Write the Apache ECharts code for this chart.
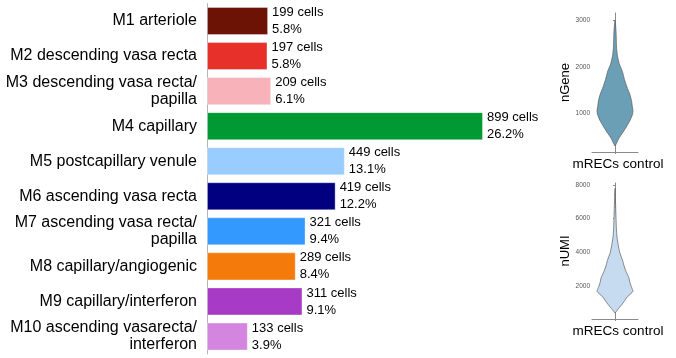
<!DOCTYPE html>
<html>
<head>
<meta charset="utf-8">
<script src="https://cdn.jsdelivr.net/npm/echarts@6/dist/echarts.min.js"></script>
<style>
  html, body { margin: 0; padding: 0; background: #fff; }
  #chart { width: 676px; height: 358px; }
</style>
</head>
<body>
<div id="chart"></div>
<script>
// Endothelial clusters: cell counts and share of all cells
const categories = [
  'M1 arteriole',
  'M2 descending vasa recta',
  'M3 descending vasa recta/\npapilla',
  'M4 capillary',
  'M5 postcapillary venule',
  'M6 ascending vasa recta',
  'M7 ascending vasa recta/\npapilla',
  'M8 capillary/angiogenic',
  'M9 capillary/interferon',
  'M10 ascending vasarecta/\ninterferon'
];
const cellCounts = [199, 197, 209, 899, 449, 419, 321, 289, 311, 133];
const cellPercents = ['5.8', '5.8', '6.1', '26.2', '13.1', '12.2', '9.4', '8.4', '9.1', '3.9'];
const barColors = ['#6c1305', '#e8302a', '#f8b3ba', '#009933', '#99ccff',
                   '#000080', '#3399ff', '#f47a0b', '#a83bc5', '#d385e0'];

// Violin outlines: expression level vs relative density (half width)
const nGeneLevels  = [290, 360, 460, 560, 700, 850, 980, 1060, 1150, 1270, 1400, 1560, 1720, 1900, 2060, 2250, 2430, 2780, 3000];
const nGeneDensity = [0, 0.1, 0.22, 0.4, 0.63, 0.85, 0.98, 1.0, 0.96, 0.92, 0.83, 0.67, 0.53, 0.41, 0.24, 0.13, 0.085, 0.056, 0];
const nUMILevels   = [400, 600, 870, 1100, 1350, 1680, 1900, 2200, 2500, 2850, 3200, 3500, 4000, 4500, 5000, 5600, 6600, 7800];
const nUMIDensity  = [0, 0.15, 0.36, 0.52, 0.68, 1.0, 0.93, 0.83, 0.77, 0.62, 0.5, 0.43, 0.26, 0.17, 0.1, 0.07, 0.04, 0];
const nGeneTicks = [1000, 2000, 3000];
const nUMITicks  = [2000, 4000, 6000, 8000];
const sampleName = 'mRECs control';

const FONT = '"Liberation Sans", Arial, Helvetica, sans-serif';

function violinRenderer(levels, density, fill) {
  return function (params, api) {
    if (params.dataIndex !== 0) return null;
    const right = levels.map((v, i) => api.coord([density[i], v]));
    const left = [];
    for (let i = levels.length - 2; i >= 1; i--) {
      left.push(api.coord([-density[i], levels[i]]));
    }
    return {
      type: 'polygon',
      shape: { points: right.concat(left), smooth: 0.15 },
      style: { fill: fill, stroke: '#5c5c5c', lineWidth: 0.7 }
    };
  };
}

function violinAxes(grid, name, ticks, min, max) {
  const x = {
    type: 'value', gridIndex: grid, min: -1.28, max: 1.28,
    name: sampleName, nameLocation: 'middle', nameGap: 5,
    nameTextStyle: { fontSize: 13.5, color: '#000', fontFamily: FONT, padding: [0, 0, 0, 6] },
    axisLine: { show: true, lineStyle: { color: '#8a8a8a', width: 1 } },
    axisTick: { show: true, customValues: [0], length: 2, lineStyle: { color: '#8a8a8a' } },
    axisLabel: { show: false }, splitLine: { show: false }
  };
  const y = {
    type: 'value', gridIndex: grid, min: min, max: max,
    name: name, nameLocation: 'middle', nameGap: 19,
    nameTextStyle: { fontSize: 13, color: '#000', fontFamily: FONT },
    axisLine: { show: true, lineStyle: { color: '#8a8a8a', width: 1 } },
    axisTick: { show: true, customValues: ticks, length: 2, lineStyle: { color: '#8a8a8a' } },
    axisLabel: {
      customValues: ticks, fontSize: 6.5, color: '#555', margin: 2, fontFamily: FONT,
      formatter: v => String(v)
    },
    splitLine: { show: false }
  };
  return [x, y];
}

const v1 = violinAxes(1, 'nGene', nGeneTicks, 160, 3160);
const v2 = violinAxes(2, 'nUMI', nUMITicks, 40, 8120);

const chart = echarts.init(document.getElementById('chart'), null, { renderer: 'canvas' });
chart.setOption({
  animation: false,
  backgroundColor: '#fff',
  grid: [
    { left: 207, top: 3.5, width: 307, height: 350.5 },
    { left: 592, top: 13, width: 46, height: 139 },
    { left: 592, top: 183, width: 46, height: 136 }
  ],
  xAxis: [
    { type: 'value', gridIndex: 0, min: 0, max: 1000, show: false },
    v1[0], v2[0]
  ],
  yAxis: [
    {
      type: 'category', gridIndex: 0, data: categories, inverse: true,
      axisLine: { show: true, lineStyle: { color: '#b4b4b4', width: 1 } },
      axisTick: { show: false },
      axisLabel: { fontSize: 16, lineHeight: 17, color: '#000', margin: 10, fontFamily: FONT, align: 'right' }
    },
    v1[1], v2[1]
  ],
  series: [
    {
      type: 'bar', xAxisIndex: 0, yAxisIndex: 0,
      barCategoryGap: '20%',
      data: cellCounts.map((c, i) => ({
        value: c,
        itemStyle: { color: barColors[i], borderColor: 'rgba(255,255,255,0.35)', borderWidth: 1 }
      })),
      label: {
        show: true, position: 'right', distance: 4,
        fontSize: 13, lineHeight: 17, color: '#000', fontFamily: FONT,
        formatter: p => cellCounts[p.dataIndex] + ' cells\n' + cellPercents[p.dataIndex] + '%'
      }
    },
    {
      type: 'custom', xAxisIndex: 1, yAxisIndex: 1,
      renderItem: violinRenderer(nGeneLevels, nGeneDensity, '#6a9fb5'),
      data: [[0, nGeneLevels[0]]]
    },
    {
      type: 'custom', xAxisIndex: 2, yAxisIndex: 2,
      renderItem: violinRenderer(nUMILevels, nUMIDensity, '#c6dbef'),
      data: [[0, nUMILevels[0]]]
    }
  ]
});
</script>
</body>
</html>
